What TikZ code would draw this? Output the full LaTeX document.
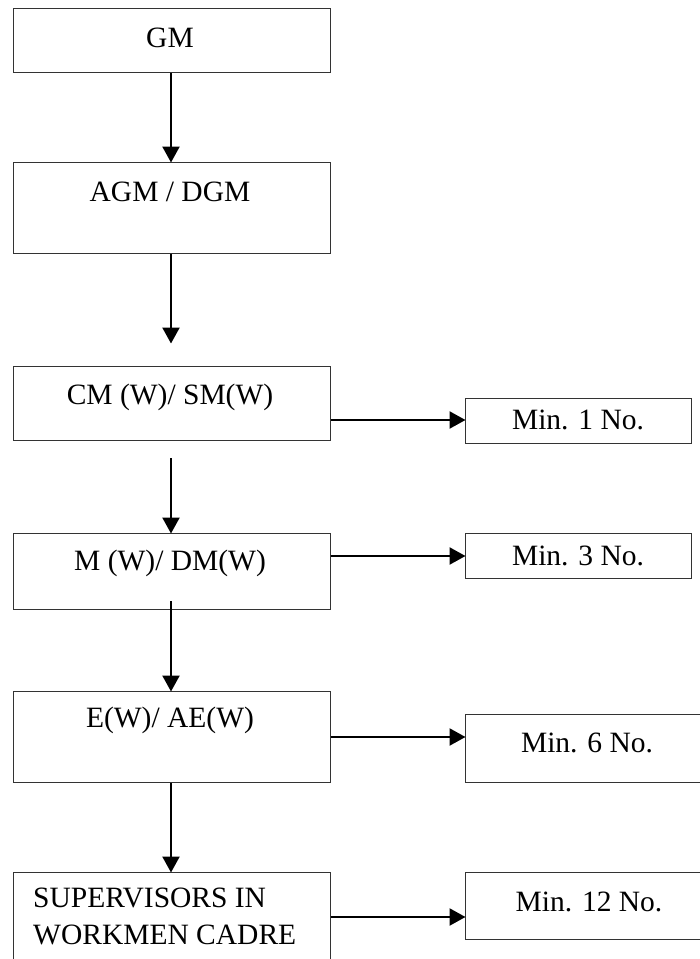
\documentclass[tikz,border=0pt]{standalone}
\usepackage{fontspec}
\setmainfont{Liberation Serif}
\usetikzlibrary{arrows.meta}
\begin{document}
\begin{tikzpicture}[x=1pt,y=-1pt,
  box/.style={draw=black!80,line width=1pt,rectangle,inner sep=0pt,anchor=north west},
  lbl/.style={inner sep=0pt,font=\fontsize{29.5}{35}\selectfont},
  arr/.style={line width=2.3pt,-{Triangle[length=16pt,width=17pt]},shorten >=-0.5pt}]
\useasboundingbox (0,0) rectangle (700,959);
% left boxes
\node[box,minimum width=317pt,minimum height=64pt] (gm) at (13,8) {};
\node[box,minimum width=317pt,minimum height=91pt] (agm) at (13,162) {};
\node[box,minimum width=317pt,minimum height=74pt] (cm) at (13,366) {};
\node[box,minimum width=317pt,minimum height=76pt] (m) at (13,533) {};
\node[box,minimum width=317pt,minimum height=91pt] (e) at (13,691) {};
\node[box,minimum width=317pt,minimum height=110pt] (sup) at (13,872) {};
% right boxes
\node[box,minimum width=226pt,minimum height=45pt] (r1) at (465,398) {};
\node[box,minimum width=226pt,minimum height=45pt] (r3) at (465,533) {};
\node[box,minimum width=240pt,minimum height=68pt] (r6) at (465,714) {};
\node[box,minimum width=240pt,minimum height=67pt] (r12) at (465,872) {};
% labels
\node[lbl] (tgm) at (170,38) {GM};
\node[lbl] (tagm) at (170,192) {AGM / DGM};
\node[lbl] (tcm) at (170,397) {CM (W)/ SM(W)};
\node[lbl] (tm) at (170,563) {M (W)/ DM(W)};
\node[lbl] (te) at (170,720) {E(W)/ AE(W)};
\node[lbl,anchor=west] (tsup1) at (33,898) {SUPERVISORS IN};
\node[lbl,anchor=west] (tsup2) at (33,935) {WORKMEN CADRE};
\node[lbl] (t1) at (578,420) {Min. 1 No.};
\node[lbl] (t3) at (578,556) {Min. 3 No.};
\node[lbl] (t6) at (587,743) {Min. 6 No.};
\node[lbl] (t12) at (589,902) {Min. 12 No.};
% free ends
\coordinate (a2end) at (171,343);
\coordinate (a3start) at (171,458);
% vertical arrows
\draw[arr] (gm.south -| 171,0) -- (agm.north -| 171,0);
\draw[arr] (agm.south -| 171,0) -- (a2end);
\draw[arr] (a3start) -- (m.north -| 171,0);
\draw[arr] (m.south -| 171,0) ++(0,-9) -- (e.north -| 171,0);
\draw[arr] (e.south -| 171,0) -- (sup.north -| 171,0);
% horizontal arrows
\draw[arr] (cm.east |- 0,420) -- (r1.west |- 0,420);
\draw[arr] (m.east |- 0,556) -- (r3.west |- 0,556);
\draw[arr] (e.east |- 0,737) -- (r6.west |- 0,737);
\draw[arr] (sup.east |- 0,917) -- (r12.west |- 0,917);
\end{tikzpicture}
\end{document}
